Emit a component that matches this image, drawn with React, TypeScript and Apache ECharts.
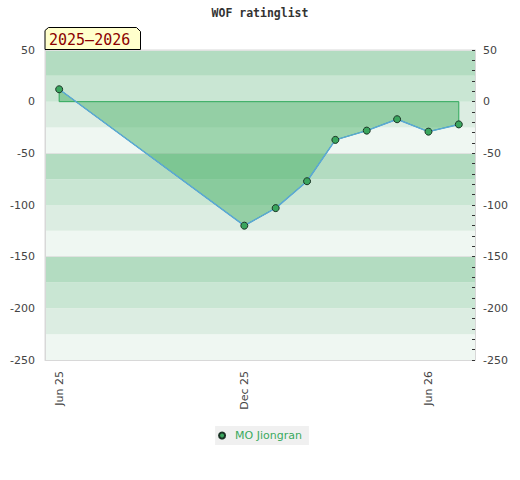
import React, { useEffect, useRef } from "react";
import * as echarts from "echarts";

const TITLE = "WOF ratinglist";
const SERIES_NAME = "MO Jiongran";
const PERIOD_LABEL = "2025–2026";
const dates = [
  "2025-06-01",
  "2025-12-01",
  "2026-01-01",
  "2026-02-01",
  "2026-03-01",
  "2026-04-01",
  "2026-05-01",
  "2026-06-01",
  "2026-07-01",
];
const ratings = [12, -120, -103, -77, -37, -28, -17, -29, -22];
const xTickDates = ["2025-06-01", "2025-12-01", "2026-06-01"];
const xRange = ["2025-05-18", "2026-07-17"];
const yMin = -250;
const yMax = 50;
const bandColors = ["#eff7f2", "#dcede2", "#c9e6d3", "#b3dcc1"];
const MONTHS = ["Jan", "Feb", "Mar", "Apr", "May", "Jun", "Jul", "Aug", "Sep", "Oct", "Nov", "Dec"];

const ts = (s: string) => {
  const [y, m, d] = s.split("-").map(Number);
  return Date.UTC(y, m - 1, d);
};

export default function App() {
  const ref = useRef<HTMLDivElement>(null);
  useEffect(() => {
    if (!ref.current) return;
    const chart = echarts.init(ref.current, undefined, { renderer: "svg" });
    const points = dates.map((d, i) => [ts(d), ratings[i]]);
    const font = "DejaVu Sans";
    chart.setOption({
      animation: false,
      backgroundColor: "#ffffff",
      title: {
        text: TITLE,
        left: "center",
        top: 2,
        textStyle: {
          fontFamily: "DejaVu Sans Mono",
          fontWeight: "bold",
          fontSize: 11.5,
          color: "#333",
        },
      },
      grid: {
        left: 45,
        right: 45,
        top: 50,
        bottom: 120,
        show: true,
        borderColor: "#d8d8d8",
        borderWidth: 1,
        backgroundColor: "transparent",
      },
      legend: {
        data: [SERIES_NAME],
        left: "center",
        top: 426,
        backgroundColor: "#f0f0f0",
        padding: [4, 7, 4, 3],
        icon: "circle",
        itemWidth: 16,
        itemHeight: 6,
        textStyle: { color: "#3aaa5e", fontSize: 11, fontFamily: font },
      },
      xAxis: {
        type: "value",
        min: ts(xRange[0]),
        max: ts(xRange[1]),
        axisLine: { show: true, onZero: false, lineStyle: { color: "#d8d8d8" } },
        axisTick: { show: false, customValues: xTickDates.map(ts) },
        splitLine: { show: false },
        axisLabel: {
          customValues: xTickDates.map(ts),
          rotate: 90,
          margin: 11,
          color: "#444",
          fontSize: 11,
          fontFamily: font,
          formatter: (v: number) => {
            const d = new Date(v);
            return `${MONTHS[d.getUTCMonth()]} ${String(d.getUTCFullYear()).slice(2)}`;
          },
        },
      },
      yAxis: [
        {
          type: "value",
          min: yMin,
          max: yMax,
          interval: 25,
          position: "left",
          axisLine: { show: true, lineStyle: { color: "#d8d8d8" } },
          axisTick: { show: false },
          axisLabel: {
            margin: 10,
            color: "#444",
            fontSize: 11,
            fontFamily: font,
            formatter: (v: number) => (v % 50 === 0 ? String(v) : ""),
          },
          splitLine: {
            show: true,
            lineStyle: {
              color: ["#dfe2e0", "rgba(0,0,0,0)", "rgba(0,0,0,0)", "rgba(0,0,0,0)"],
              width: 1,
            },
          },
          splitArea: { show: true, areaStyle: { color: bandColors } },
        },
        {
          type: "value",
          min: yMin,
          max: yMax,
          interval: 10,
          position: "right",
          axisLine: { show: true, lineStyle: { color: "#d8d8d8" } },
          axisTick: { show: true, inside: true, length: 3, lineStyle: { color: "#333" } },
          axisLabel: {
            margin: 8,
            color: "#444",
            fontSize: 11,
            fontFamily: font,
            formatter: (v: number) => (v % 50 === 0 ? String(v) : ""),
          },
          splitLine: { show: false },
        },
      ],
      series: [
        {
          name: "area",
          type: "custom",
          clip: true,
          data: points,
          encode: { x: 0, y: 1 },
          renderItem: (params: any, api: any) => {
            if (params.dataIndex !== 0) return { type: "group", children: [] };
            const first = points[0];
            const last = points[points.length - 1];
            const poly = [api.coord([first[0], 0])];
            points.forEach((p) => poly.push(api.coord(p)));
            poly.push(api.coord([last[0], 0]));
            return {
              type: "polygon",
              shape: { points: poly },
              style: {
                fill: "rgba(60,170,90,0.45)",
                stroke: "#2ea85a",
                lineWidth: 1,
              },
              silent: true,
            };
          },
          z: 2,
        },
        {
          name: SERIES_NAME,
          type: "line",
          data: points,
          symbol: "circle",
          symbolSize: 7,
          lineStyle: { color: "#5ba7d8", width: 1.5 },
          itemStyle: { color: "#3aa65e", borderColor: "#1b3526", borderWidth: 1 },
          z: 3,
        },
      ],
      graphic: [
        {
          type: "polygon",
          shape: {
            points: [
              [45, 49.5],
              [45, 30.5],
              [48.5, 27.5],
              [136.5, 27.5],
              [140.5, 31.5],
              [140.5, 49.5],
            ],
          },
          style: { fill: "#ffffcc", stroke: "#000", lineWidth: 1 },
          z: 10,
        },
        {
          type: "text",
          x: 49,
          y: 40,
          style: {
            text: PERIOD_LABEL,
            fill: "#8b0000",
            font: "15px 'DejaVu Sans Mono'",
            verticalAlign: "middle",
            align: "left",
          },
          z: 11,
        },
      ],
    });
    return () => chart.dispose();
  }, []);
  return (
    <div
      ref={ref}
      style={{ position: "fixed", left: 0, top: 0, width: 520, height: 480 }}
    />
  );
}
